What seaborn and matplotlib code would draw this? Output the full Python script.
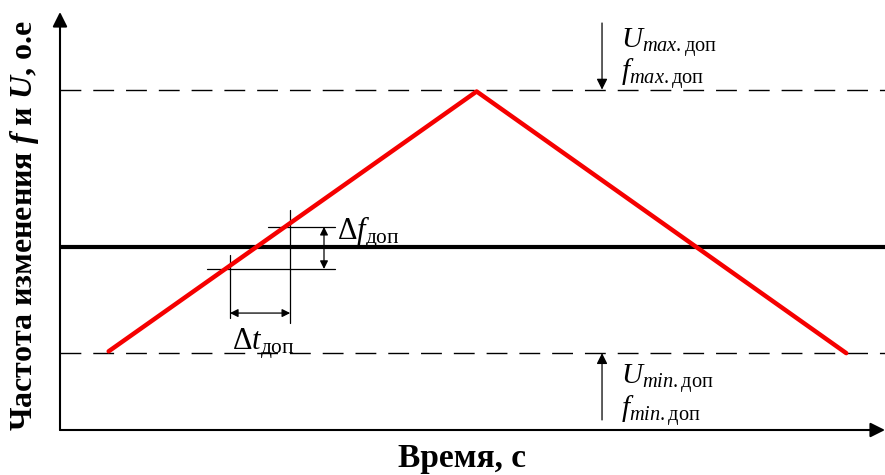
import numpy as np
import pandas as pd
import matplotlib
matplotlib.use("Agg")
import matplotlib.pyplot as plt
import seaborn as sns

# Data (time in % of the axis, frequency in per-unit)
time_pts = [5.9, 50.5, 95.3]
freq_pts = [0.43, 1.85, 0.42]
nominal_t = [0.0, 100.0]
nominal_f = [1.0, 1.0]
f_max_lim = 1.86
f_min_lim = 0.42
band_f = [0.88, 1.11]      # lower / upper edge of allowed band
band_t = [20.6, 27.9]      # crossing times with the band

sns.set_theme(style="white")
plt.rcParams["font.family"] = ["Liberation Serif", "DejaVu Serif"]
plt.rcParams["text.color"] = "black"
plt.rcParams["mathtext.fontset"] = "custom"
plt.rcParams["mathtext.rm"] = "Liberation Serif"
plt.rcParams["mathtext.it"] = "Liberation Serif:italic"
plt.rcParams["mathtext.bf"] = "Liberation Serif:bold"
plt.rcParams["mathtext.bfit"] = "Liberation Serif:bold:italic"

fig = plt.figure(figsize=(8.85, 4.75), dpi=100)
ax = fig.add_axes([60 / 885, 45 / 475, 825 / 885, 418 / 475])
ax.set_xlim(0, 100)
ax.set_ylim(0, 418 / 183)
ax.axis("off")

# limit lines
for lvl in [f_max_lim, f_min_lim]:
    ax.plot([0, 100], [lvl, lvl], color="black", lw=1.0, dashes=(15, 8.6), zorder=1)

# nominal
sns.lineplot(x=nominal_t, y=nominal_f, color="black", lw=3.0, ax=ax, zorder=2)
# frequency ramp
df = pd.DataFrame({"t": time_pts, "f": freq_pts})
sns.lineplot(data=df, x="t", y="f", color="#f50000", lw=3.2, ax=ax, zorder=3, sort=False)

# axis arrows
arr = dict(arrowstyle="-|>", lw=1.5, color="black", mutation_scale=22, shrinkA=0, shrinkB=0)
ax.annotate("", xy=(0, 1), xytext=(0, 0), xycoords="axes fraction", arrowprops=arr, annotation_clip=False)
ax.annotate("", xy=(1.0, 0), xytext=(0, 0), xycoords="axes fraction", arrowprops=arr, annotation_clip=False)

# band construction lines
ax.plot([band_t[1], band_t[1]], [1.20, 0.585], color="black", lw=0.9)
ax.plot([band_t[0], band_t[0]], [0.956, 0.612], color="black", lw=0.9)
ax.plot([25.2, 33.3], [band_f[1], band_f[1]], color="black", lw=0.9)
ax.plot([17.8, 33.3], [band_f[0], band_f[0]], color="black", lw=0.9)

dbl = dict(arrowstyle="<|-|>", lw=0.9, color="black", mutation_scale=12, shrinkA=0, shrinkB=0)
ax.annotate("", xy=(32.0, band_f[1]), xytext=(32.0, band_f[0]), arrowprops=dbl)
ax.annotate("", xy=(band_t[0], 0.639), xytext=(band_t[1], 0.639), arrowprops=dbl)

ax.text(33.6, 1.075, r"$\Delta f_{\mathrm{доп}}$", fontsize=22, va="center", ha="left")
ax.text(24.6, 0.47, r"$\Delta t_{\mathrm{доп}}$", fontsize=22, va="center", ha="center")

# limit arrows
one = dict(arrowstyle="-|>", lw=0.9, color="black", mutation_scale=16, shrinkA=0, shrinkB=0)
ax.annotate("", xy=(65.7, f_max_lim), xytext=(65.7, 2.224), arrowprops=one)
ax.annotate("", xy=(65.7, f_min_lim), xytext=(65.7, 0.055), arrowprops=one)

ax.text(68.0, 2.12, r"$U_{max.\,\!\mathrm{доп}}$", fontsize=21, va="center", ha="left")
ax.text(68.0, 1.94, r"$f_{max.\,\!\mathrm{доп}}$", fontsize=21, va="center", ha="left")
ax.text(68.0, 0.28, r"$U_{min.\,\!\mathrm{доп}}$", fontsize=21, va="center", ha="left")
ax.text(68.0, 0.10, r"$f_{min.\,\!\mathrm{доп}}$", fontsize=21, va="center", ha="left")

fig.text(25 / 885, 1 - 226 / 475, r"Частота изменения $\mathbfit{f}$ и $\mathbfit{U}$, о.е",
         rotation=90, fontsize=23, fontweight="bold", ha="center", va="center")
fig.text(462 / 885, 1 - 458 / 475, "Время, с", fontsize=24, fontweight="bold",
         ha="center", va="center")

fig.savefig("out.png", dpi=100)
